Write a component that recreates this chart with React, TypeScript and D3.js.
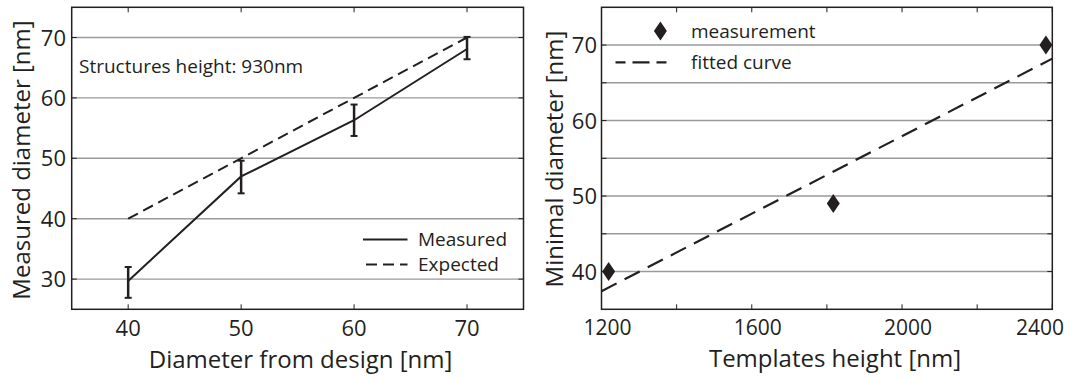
import React, { useEffect, useRef } from "react";
import * as d3 from "d3";

// left panel: diameter from design vs measured
const designDiam = [40, 50, 60, 70];
const measuredDiam = [29.7, 47.0, 56.3, 68.1];
const measuredLow = [26.9, 44.2, 53.7, 66.4];
const measuredHigh = [32.0, 49.6, 58.9, 70.1];
const expectedDiam = [40, 50, 60, 70];
const leftXTicks = [40, 50, 60, 70];
const leftYTicks = [30, 40, 50, 60, 70];

// right panel: templates height vs minimal diameter
const templateHeight = [1219, 1817, 2383];
const minimalDiam = [40, 49, 70];
const fitHeight = [1200, 2400];
const fitDiam = [37.4, 68.2];
const rightXTicks = [1200, 1400, 1600, 1800, 2000, 2200, 2400];
const rightXLabels = [1200, 1600, 2000, 2400];
const rightYGrid = [40, 45, 50, 55, 60, 65, 70];
const rightYLabels = [40, 50, 60, 70];

const INK = "#231f20";
const GRID = "#9a9a9a";
const FONT = "'Open Sans', sans-serif";

const App: React.FC = () => {
  const svgRef = useRef<SVGSVGElement>(null);

  useEffect(() => {
    if (!svgRef.current) return;
    const svg = d3.select(svgRef.current);
    svg.selectAll("*").remove();

    const diamond = (cx: number, cy: number) =>
      `M${cx},${cy - 9.5}L${cx + 6.5},${cy}L${cx},${cy + 9.5}L${cx - 6.5},${cy}Z`;

    // ---------- LEFT PANEL ----------
    const L = { left: 71.7, right: 523.5, top: 7.3, bottom: 309.3 };
    const x1 = d3.scaleLinear().domain([35, 75]).range([L.left, L.right]);
    const y1 = d3.scaleLinear().domain([25, 75]).range([L.bottom, L.top]);
    const g1 = svg.append("g");

    // gridlines
    g1.selectAll(".grid")
      .data(leftYTicks)
      .enter()
      .append("line")
      .attr("x1", L.left)
      .attr("x2", L.right)
      .attr("y1", d => y1(d))
      .attr("y2", d => y1(d))
      .attr("stroke", GRID)
      .attr("stroke-width", 1.4);

    // ticks
    leftXTicks.forEach(t => {
      g1.append("line").attr("x1", x1(t)).attr("x2", x1(t))
        .attr("y1", L.top).attr("y2", L.top + 5)
        .attr("stroke", INK).attr("stroke-width", 1);
      g1.append("line").attr("x1", x1(t)).attr("x2", x1(t))
        .attr("y1", L.bottom).attr("y2", L.bottom - 5)
        .attr("stroke", INK).attr("stroke-width", 1);
    });
    leftYTicks.forEach(t => {
      g1.append("line").attr("x1", L.left).attr("x2", L.left + 5)
        .attr("y1", y1(t)).attr("y2", y1(t))
        .attr("stroke", INK).attr("stroke-width", 1);
      g1.append("line").attr("x1", L.right).attr("x2", L.right - 5)
        .attr("y1", y1(t)).attr("y2", y1(t))
        .attr("stroke", INK).attr("stroke-width", 1);
    });

    // frame
    g1.append("rect")
      .attr("x", L.left).attr("y", L.top)
      .attr("width", L.right - L.left).attr("height", L.bottom - L.top)
      .attr("fill", "none").attr("stroke", INK).attr("stroke-width", 1.5);

    // expected (dashed)
    const line1 = d3.line<[number, number]>().x(d => x1(d[0])).y(d => y1(d[1]));
    g1.append("path")
      .attr("d", line1(designDiam.map((d, i) => [d, expectedDiam[i]] as [number, number])))
      .attr("fill", "none").attr("stroke", INK).attr("stroke-width", 2)
      .attr("stroke-dasharray", "11,6");

    // measured (solid)
    g1.append("path")
      .attr("d", line1(designDiam.map((d, i) => [d, measuredDiam[i]] as [number, number])))
      .attr("fill", "none").attr("stroke", INK).attr("stroke-width", 2);

    // error bars
    designDiam.forEach((d, i) => {
      const cx = x1(d);
      g1.append("line").attr("x1", cx).attr("x2", cx)
        .attr("y1", y1(measuredLow[i])).attr("y2", y1(measuredHigh[i]))
        .attr("stroke", INK).attr("stroke-width", 2.5);
      [measuredLow[i], measuredHigh[i]].forEach(v => {
        g1.append("line").attr("x1", cx - 3.5).attr("x2", cx + 3.5)
          .attr("y1", y1(v)).attr("y2", y1(v))
          .attr("stroke", INK).attr("stroke-width", 2);
      });
    });

    // tick labels
    g1.selectAll(".xl")
      .data(leftXTicks)
      .enter()
      .append("text")
      .attr("x", d => x1(d))
      .attr("y", 335.5)
      .attr("text-anchor", "middle")
      .style("font-size", "22px")
      .text(d => d);
    g1.selectAll(".yl")
      .data(leftYTicks)
      .enter()
      .append("text")
      .attr("x", 66)
      .attr("y", d => y1(d) + 8)
      .attr("text-anchor", "end")
      .style("font-size", "22px")
      .text(d => d);

    // axis titles
    g1.append("text")
      .attr("x", (L.left + L.right) / 2 + 3)
      .attr("y", 368)
      .attr("text-anchor", "middle")
      .style("font-size", "24px")
      .text("Diameter from design [nm]");
    g1.append("text")
      .attr("transform", `translate(30,160) rotate(-90)`)
      .attr("text-anchor", "middle")
      .style("font-size", "24px")
      .text("Measured diameter [nm]");

    // annotation
    g1.append("text")
      .attr("x", 79)
      .attr("y", 73)
      .style("font-size", "19px")
      .text("Structures height: 930nm");

    // legend
    g1.append("line").attr("x1", 363).attr("x2", 407.5)
      .attr("y1", 239.6).attr("y2", 239.6)
      .attr("stroke", INK).attr("stroke-width", 2);
    g1.append("line").attr("x1", 363).attr("x2", 407.5)
      .attr("y1", 264.5).attr("y2", 264.5)
      .attr("stroke", INK).attr("stroke-width", 2)
      .attr("stroke-dasharray", "11,6").attr("stroke-dashoffset", -3);
    g1.append("text").attr("x", 418).attr("y", 246)
      .style("font-size", "19px").text("Measured");
    g1.append("text").attr("x", 418).attr("y", 271)
      .style("font-size", "19px").text("Expected");

    // ---------- RIGHT PANEL ----------
    const R = { left: 601.5, right: 1052.3, top: 7.3, bottom: 309.3 };
    const x2 = d3.scaleLinear().domain([1200, 2400]).range([R.left, R.right]);
    const y2 = d3.scaleLinear().domain([35, 75]).range([R.bottom, R.top]);
    const g2 = svg.append("g");

    g2.selectAll(".grid")
      .data(rightYGrid)
      .enter()
      .append("line")
      .attr("x1", R.left)
      .attr("x2", R.right)
      .attr("y1", d => y2(d))
      .attr("y2", d => y2(d))
      .attr("stroke", GRID)
      .attr("stroke-width", 1.4);

    rightXTicks.forEach(t => {
      g2.append("line").attr("x1", x2(t)).attr("x2", x2(t))
        .attr("y1", R.top).attr("y2", R.top + 5)
        .attr("stroke", INK).attr("stroke-width", 1);
      g2.append("line").attr("x1", x2(t)).attr("x2", x2(t))
        .attr("y1", R.bottom).attr("y2", R.bottom - 5)
        .attr("stroke", INK).attr("stroke-width", 1);
    });
    rightYGrid.forEach(t => {
      g2.append("line").attr("x1", R.left).attr("x2", R.left + 5)
        .attr("y1", y2(t)).attr("y2", y2(t))
        .attr("stroke", INK).attr("stroke-width", 1);
      g2.append("line").attr("x1", R.right).attr("x2", R.right - 5)
        .attr("y1", y2(t)).attr("y2", y2(t))
        .attr("stroke", INK).attr("stroke-width", 1);
    });

    g2.append("rect")
      .attr("x", R.left).attr("y", R.top)
      .attr("width", R.right - R.left).attr("height", R.bottom - R.top)
      .attr("fill", "none").attr("stroke", INK).attr("stroke-width", 1.5);

    // fitted curve
    const line2 = d3.line<[number, number]>().x(d => x2(d[0])).y(d => y2(d[1]));
    g2.append("path")
      .attr("d", line2(fitHeight.map((h, i) => [h, fitDiam[i]] as [number, number])))
      .attr("fill", "none").attr("stroke", INK).attr("stroke-width", 2.2)
      .attr("stroke-dasharray", "17,9");

    // measurement diamonds
    g2.selectAll(".pt")
      .data(templateHeight)
      .enter()
      .append("path")
      .attr("d", (h, i) => diamond(x2(h), y2(minimalDiam[i])))
      .attr("fill", INK);

    // tick labels
    g2.selectAll(".xl")
      .data(rightXLabels)
      .enter()
      .append("text")
      .attr("x", (d, i) =>
        i === rightXLabels.length - 1 ? 1064 : x2(d) + 6)
      .attr("y", 335)
      .attr("text-anchor", (d, i) =>
        i === rightXLabels.length - 1 ? "end" : "middle")
      .style("font-size", "21px")
      .text(d => d);
    g2.selectAll(".yl")
      .data(rightYLabels)
      .enter()
      .append("text")
      .attr("x", 597)
      .attr("y", d => y2(d) + 8)
      .attr("text-anchor", "end")
      .style("font-size", "22px")
      .text(d => d);

    g2.append("text")
      .attr("x", 835)
      .attr("y", 366.5)
      .attr("text-anchor", "middle")
      .style("font-size", "24px")
      .text("Templates height [nm]");
    g2.append("text")
      .attr("transform", `translate(563,159) rotate(-90)`)
      .attr("text-anchor", "middle")
      .style("font-size", "24px")
      .text("Minimal diameter [nm]");

    // legend
    g2.append("path").attr("d", diamond(660.4, 31)).attr("fill", INK);
    g2.append("line").attr("x1", 615.5).attr("x2", 667.5)
      .attr("y1", 62.3).attr("y2", 62.3)
      .attr("stroke", INK).attr("stroke-width", 2.2)
      .attr("stroke-dasharray", "10,7,17,7,10");
    g2.append("text").attr("x", 691).attr("y", 37.5)
      .style("font-size", "19px").text("measurement");
    g2.append("text").attr("x", 691).attr("y", 68.5)
      .style("font-size", "19px").text("fitted curve");
  }, []);

  return (
    <svg
      ref={svgRef}
      width={1069}
      height={378}
      style={{
        position: "absolute",
        left: 0,
        top: 0,
        background: "#fff",
        fontFamily: FONT,
        fill: INK,
      }}
    />
  );
};

export default App;
